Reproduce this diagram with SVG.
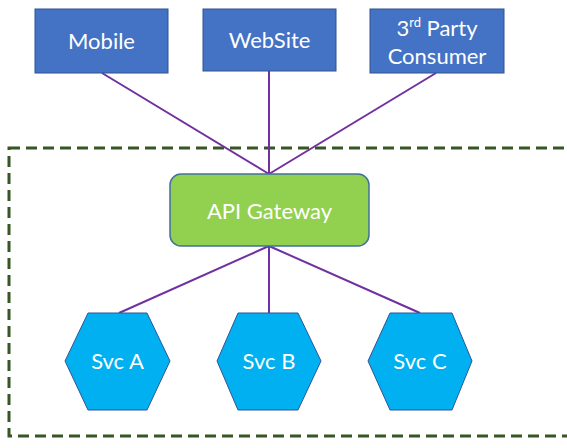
<svg xmlns="http://www.w3.org/2000/svg" width="567" height="448" viewBox="0 0 567 448">
<style>
.client{fill:#4472C4;stroke:#2F528F;stroke-width:1}
.gw{fill:#92D050;stroke:#41719C;stroke-width:1.5}
.svc{fill:#00B0F0;stroke:#2F5597;stroke-width:1}
.lbl{font-family:Lato,"Liberation Sans",sans-serif;font-size:22px;fill:#ffffff;text-anchor:middle}
.conn{stroke:#7030A0;stroke-width:2;fill:none}
.border{fill:none;stroke:#375623;stroke-width:3;stroke-dasharray:11 6}
</style>
<rect class="border" x="9" y="148" width="580" height="288"/>
<g id="connectors">
<line class="conn" x1="102" y1="73" x2="269" y2="174"/>
<line class="conn" x1="269" y1="71" x2="269" y2="174"/>
<line class="conn" x1="436" y1="73" x2="269" y2="174"/>
<line class="conn" x1="269" y1="246" x2="119" y2="313"/>
<line class="conn" x1="269" y1="246" x2="269" y2="313"/>
<line class="conn" x1="269" y1="246" x2="420" y2="313"/>
</g>
<g id="mobile">
<rect class="client" x="35" y="9" width="133" height="64"/>
<text class="lbl" x="101.5" y="49">Mobile</text>
</g>
<g id="website">
<rect class="client" x="203" y="9" width="133" height="62"/>
<text class="lbl" x="269.5" y="48">WebSite</text>
</g>
<g id="thirdparty">
<rect class="client" x="370" y="9" width="134" height="64"/>
<text class="lbl" x="437" y="36">3<tspan font-size="13" dy="-9">rd</tspan><tspan dy="9"> Party</tspan></text>
<text class="lbl" x="437" y="64">Consumer</text>
</g>
<g id="gateway">
<rect class="gw" x="170" y="174" width="199" height="72" rx="11"/>
<text class="lbl" x="269.5" y="219">API Gateway</text>
</g>
<g id="svcA">
<polygon class="svc" points="88,313 147,313 170,361 147,410 88,410 65,361"/>
<text class="lbl" x="117.5" y="369">Svc A</text>
</g>
<g id="svcB">
<polygon class="svc" points="238,313 298,313 321,361 298,410 238,410 217,361"/>
<text class="lbl" x="269" y="369">Svc B</text>
</g>
<g id="svcC">
<polygon class="svc" points="390,313 452,313 472,361 452,410 390,410 368,361"/>
<text class="lbl" x="420" y="369">Svc C</text>
</g>
</svg>
